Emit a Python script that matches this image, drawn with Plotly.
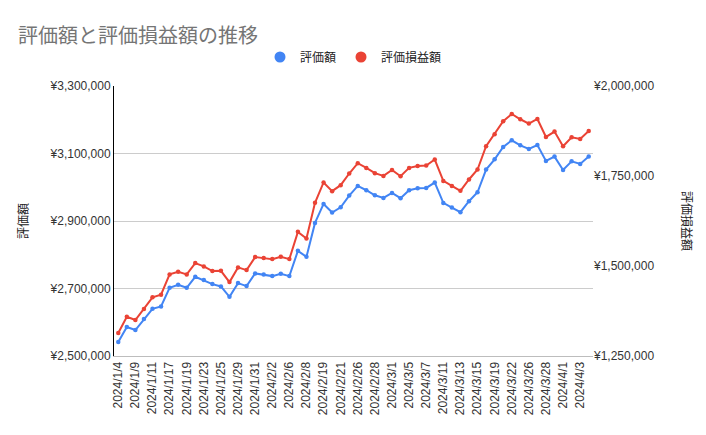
import plotly.graph_objects as go

dates = ["2024/1/4", "2024/1/5", "2024/1/9", "2024/1/10", "2024/1/11", "2024/1/16", "2024/1/17",
         "2024/1/18", "2024/1/19", "2024/1/22", "2024/1/23", "2024/1/24", "2024/1/25", "2024/1/26",
         "2024/1/29", "2024/1/30", "2024/1/31", "2024/2/1", "2024/2/2", "2024/2/5", "2024/2/6",
         "2024/2/7", "2024/2/8", "2024/2/16", "2024/2/19", "2024/2/20", "2024/2/21", "2024/2/22",
         "2024/2/26", "2024/2/27", "2024/2/28", "2024/2/29", "2024/3/1", "2024/3/4", "2024/3/5",
         "2024/3/6", "2024/3/7", "2024/3/8", "2024/3/11", "2024/3/12", "2024/3/13", "2024/3/14",
         "2024/3/15", "2024/3/18", "2024/3/19", "2024/3/21", "2024/3/22", "2024/3/25", "2024/3/26",
         "2024/3/27", "2024/3/28", "2024/3/29", "2024/4/1", "2024/4/2", "2024/4/3", "2024/4/4"]

valuation = [2541400, 2585800, 2576900, 2609500, 2639900, 2647000, 2702100, 2710900, 2702100,
             2734600, 2724900, 2713000, 2706200, 2675400, 2716000, 2707100, 2744700, 2741700,
             2736700, 2743500, 2736700, 2811500, 2793800, 2894400, 2950600, 2925200, 2940800,
             2975400, 3003900, 2991100, 2976300, 2968300, 2983100, 2967500, 2991100, 2997000,
             2997900, 3013900, 2953600, 2939900, 2926000, 2958600, 2985200, 3052400, 3082800,
             3119200, 3139100, 3124300, 3113300, 3125200, 3077800, 3090800, 3051200, 3076900,
             3068900, 3090800]

profit = [1313800, 1359000, 1349900, 1380400, 1412900, 1420100, 1476700, 1483900, 1476700,
          1508000, 1498900, 1485800, 1486700, 1455300, 1496100, 1488600, 1524700, 1521900,
          1519100, 1525500, 1519100, 1594900, 1576600, 1675400, 1732000, 1707800, 1724500,
          1756900, 1785500, 1772500, 1757800, 1750300, 1766900, 1749400, 1772500, 1778000,
          1779100, 1795800, 1736400, 1722500, 1708700, 1740300, 1768000, 1832700, 1866000,
          1902100, 1922300, 1907600, 1895700, 1908400, 1858500, 1873500, 1832700, 1857700,
          1852900, 1875100]

names = ["評価額", "評価損益額"]
colors = ["#4285F4", "#EA4335"]
tick_labels = dates[::2]

FONT = "Liberation Sans, Arial, Noto Sans CJK JP, sans-serif"
CJK = "Noto Sans CJK JP, sans-serif"

fig = go.Figure()
fig.add_trace(go.Scatter(x=dates, y=valuation, name=names[0], mode="lines+markers",
                         line=dict(color=colors[0], width=2), marker=dict(size=4.5, color=colors[0]),
                         showlegend=False, yaxis="y"))
fig.add_trace(go.Scatter(x=dates, y=profit, name=names[1], mode="lines+markers",
                         line=dict(color=colors[1], width=2), marker=dict(size=4.5, color=colors[1]),
                         showlegend=False, yaxis="y2"))
# legend-only entries (circle symbols)
for n, c in zip(names, colors):
    fig.add_trace(go.Scatter(x=[None], y=[None], name=n, mode="markers",
                             marker=dict(size=11, color=c), showlegend=True))

fig.update_layout(
    width=706, height=435,
    margin=dict(l=114, r=113, t=86, b=79),
    paper_bgcolor="white", plot_bgcolor="white",
    font=dict(family=FONT, size=12, color="#333333"),
    title=dict(text="評価額と評価損益額の推移", x=18/706, xref="container", xanchor="left",
               y=1-36/435, yref="container", yanchor="middle",
               font=dict(size=20, color="#757575", family=CJK)),
    legend=dict(orientation="h", x=0.5, xanchor="center", y=1+29/270, yanchor="middle",
                font=dict(size=12, color="#222222", family=CJK),
                itemwidth=30, bgcolor="rgba(0,0,0,0)"),
    xaxis=dict(type="category", range=[-0.5, len(dates)-0.5], tickmode="array",
               tickvals=tick_labels, ticktext=tick_labels, tickangle=-90,
               showgrid=False, showline=True, linecolor="#bdbdbd", linewidth=1,
               ticks="", tickfont=dict(size=12, color="#333333")),
    yaxis=dict(range=[2500000, 3300000], dtick=200000, tick0=2500000, tickprefix="¥",
               tickformat=",d", showgrid=True, gridcolor="#cccccc", gridwidth=1,
               showline=True, linecolor="#000000", linewidth=1, zeroline=False, ticks="",
               tickfont=dict(size=12, color="#333333")),
    yaxis2=dict(range=[1250000, 2000000], dtick=250000, tick0=1250000, tickprefix="¥",
                tickformat=",d", overlaying="y", side="right", showgrid=False,
                zeroline=False, ticks="", tickfont=dict(size=12, color="#333333")),
    annotations=[
        dict(text="評価額", xref="paper", yref="paper", x=-(114-22)/479, y=0.5,
             xanchor="center", yanchor="middle", textangle=-90, showarrow=False,
             font=dict(size=12, color="#222222", family=CJK)),
        dict(text="評価損益額", xref="paper", yref="paper", x=1+(688-593)/479, y=0.5,
             xanchor="center", yanchor="middle", textangle=90, showarrow=False,
             font=dict(size=12, color="#222222", family=CJK)),
    ],
)

fig.write_html("out.html", config={"displayModeBar": False},
               post_script="document.body.style.margin='0';document.body.style.overflow='hidden';")
